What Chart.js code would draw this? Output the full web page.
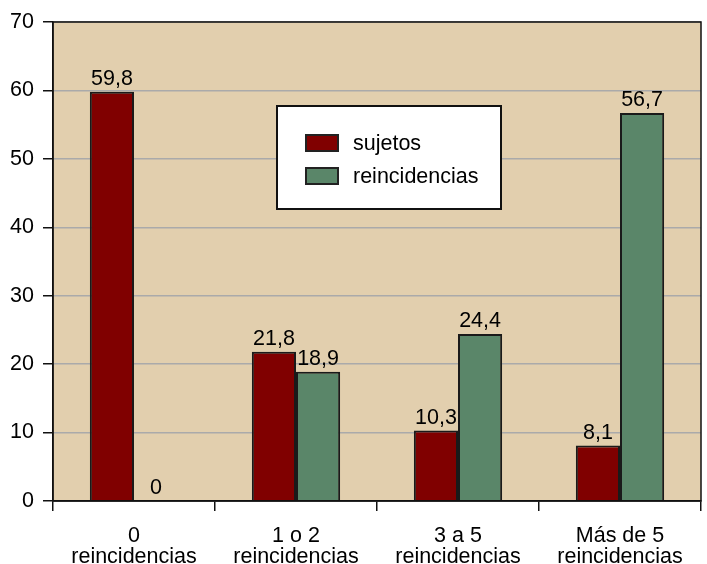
<!DOCTYPE html>
<html><head><meta charset="utf-8">
<script src="https://cdn.jsdelivr.net/npm/chart.js@4/dist/chart.umd.min.js"></script>
<style>html,body{margin:0;padding:0;background:#fff}#wrap{width:707px;height:564px}</style>
</head><body><div id="wrap"><canvas id="c" width="707" height="564"></canvas></div>
<script>
const categories = [['0','reincidencias'],['1 o 2','reincidencias'],['3 a 5','reincidencias'],['Más de 5','reincidencias']];
const sujetos = [59.8, 21.8, 10.3, 8.1];
const reincidencias = [0, 18.9, 24.4, 56.7];
const seriesNames = ['sujetos','reincidencias'];
const yTicks = [0,10,20,30,40,50,60,70];
const FONT = "'Liberation Sans', Arial, sans-serif";

const bgPlugin = {
  id:'bg',
  beforeDraw(chart){
    const {ctx, chartArea:a} = chart;
    ctx.save(); ctx.fillStyle='#E2CFAE'; ctx.fillRect(a.left,a.top,a.right-a.left,a.bottom-a.top); ctx.restore();
  },
  afterDraw(chart){
    const {ctx, chartArea:a} = chart;
    ctx.save();
    ctx.strokeStyle='#111'; ctx.lineWidth=1.5;
    ctx.strokeRect(a.left,a.top,a.right-a.left,a.bottom-a.top);
    // value labels
    ctx.fillStyle='#000'; ctx.font='21.5px '+FONT; ctx.textAlign='center'; ctx.textBaseline='bottom';
    chart.data.datasets.forEach((ds,i)=>{
      chart.getDatasetMeta(i).data.forEach((bar,j)=>{
        ctx.fillText(String(ds.data[j]).replace('.',','), bar.x, bar.y-2);
      });
    });
    // legend
    const lx=277, ly=106, lw=224, lh=103;
    ctx.fillStyle='#fff'; ctx.fillRect(lx,ly,lw,lh);
    ctx.strokeStyle='#111'; ctx.lineWidth=2; ctx.strokeRect(lx,ly,lw,lh);
    ctx.textAlign='left'; ctx.textBaseline='middle'; ctx.font='21.5px '+FONT;
    chart.data.datasets.forEach((ds,i)=>{
      const y = 143 + i*33;
      ctx.fillStyle=ds.backgroundColor; ctx.fillRect(306,y-8,32,16);
      ctx.strokeStyle='#222'; ctx.lineWidth=2; ctx.strokeRect(306,y-8,32,16);
      ctx.fillStyle='#000'; ctx.fillText(ds.label, 353, y+1);
    });
    ctx.restore();
  }
};

new Chart(document.getElementById('c'), {
  type:'bar',
  data:{
    labels: categories,
    datasets:[
      {label:seriesNames[0], data:sujetos, backgroundColor:'#800000', borderColor:'#1a1a1a', borderWidth:2, categoryPercentage:0.545, barPercentage:1},
      {label:seriesNames[1], data:reincidencias, backgroundColor:'#5A8669', borderColor:'#1a1a1a', borderWidth:2, categoryPercentage:0.545, barPercentage:1}
    ]
  },
  options:{
    responsive:false, animation:false, devicePixelRatio:1,
    layout:{padding:{top:22,right:6,left:0,bottom:0}},
    plugins:{legend:{display:false}, tooltip:{enabled:false}},
    scales:{
      x:{
        offset:true,
        grid:{offset:true, drawOnChartArea:false, drawTicks:true, tickLength:10, color:'#111', lineWidth:1.5},
        border:{display:true, color:'#111', width:1.5},
        ticks:{color:'#000', font:{family:FONT, size:21.5, lineHeight:1.0}, padding:14, maxRotation:0, autoSkip:false},
        afterFit(s){ s.height = 63; }
      },
      y:{
        min:0, max:70,
        afterBuildTicks(s){ s.ticks = yTicks.map(v=>({value:v})); },
        grid:{color:'#AAAAAA', lineWidth:1.5, tickColor:'#111', tickLength:10, drawTicks:true},
        border:{display:true, color:'#111', width:1.5},
        ticks:{color:'#000', font:{family:FONT, size:21.5}, padding:9},
        afterFit(s){ s.width = 53; }
      }
    }
  },
  plugins:[bgPlugin]
});
</script></body></html>
